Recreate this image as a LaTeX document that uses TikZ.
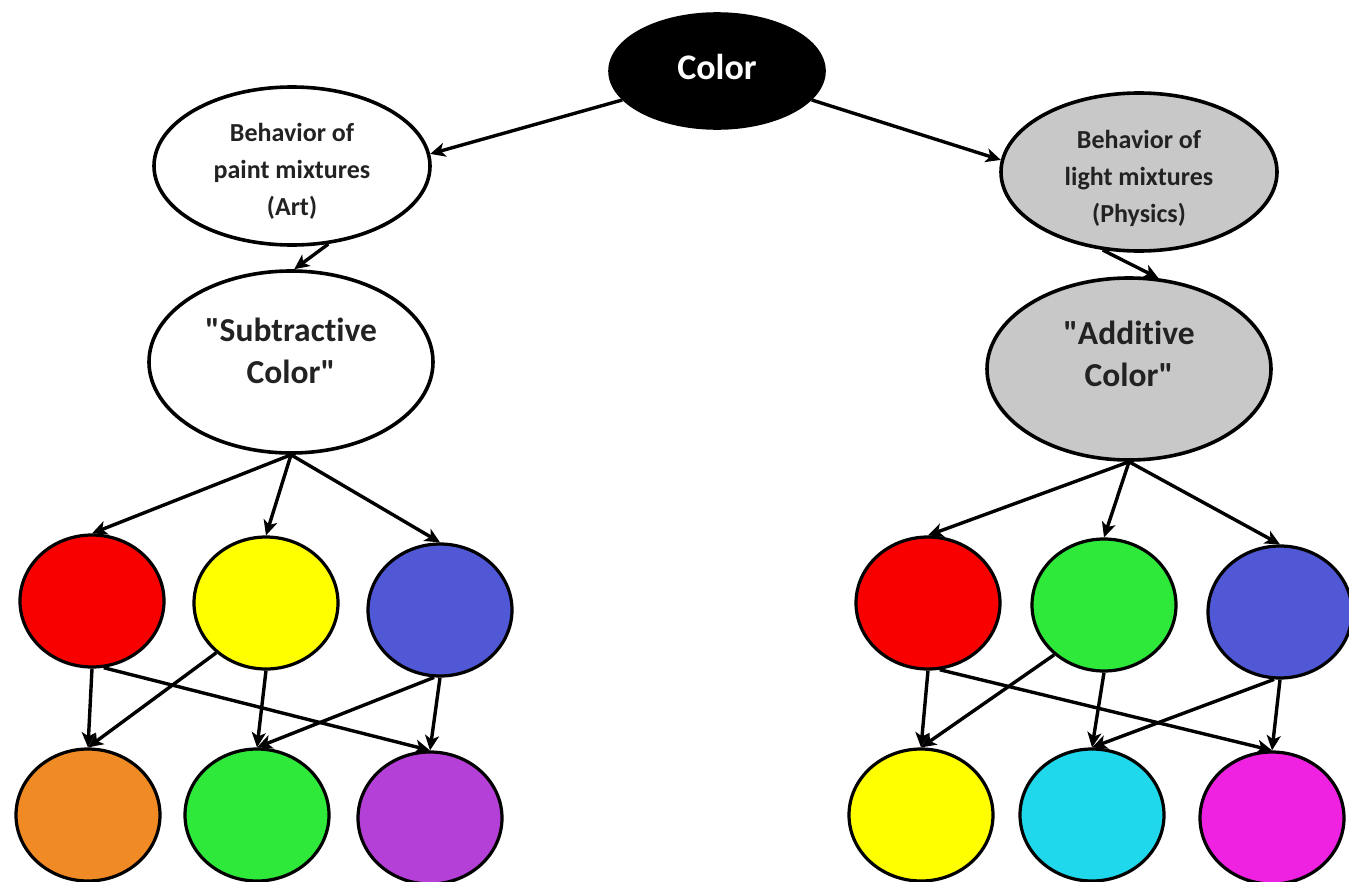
\documentclass[tikz,border=0pt]{standalone}
\usepackage{fontspec}
\newfontfamily\carl{Carlito}[Ligatures={NoCommon}]
\usetikzlibrary{shapes.geometric,arrows.meta}
\definecolor{cred}{HTML}{F80000}
\definecolor{cyellow}{HTML}{FFFF00}
\definecolor{cblue}{HTML}{5058D6}
\definecolor{corange}{HTML}{F08A24}
\definecolor{cgreen}{HTML}{2EE83A}
\definecolor{cpurple}{HTML}{B540D8}
\definecolor{ccyan}{HTML}{20D8EC}
\definecolor{cmagenta}{HTML}{EE22E0}
\definecolor{cgray}{HTML}{C8C8C8}
\definecolor{ctext}{HTML}{222222}
\tikzset{
  ell/.style={ellipse, draw=black, line width=3.6pt, inner sep=0pt},
  small/.style={ell, minimum width=276pt, minimum height=158pt},
  big/.style={ell, minimum width=284pt, minimum height=182pt},
  smalltxt/.style={align=center, text=ctext, font=\carl\fontsize{26}{37}\selectfont\bfseries},
  bigtxt/.style={align=center, text=ctext, font=\carl\fontsize{33.5}{42}\selectfont\bfseries},
  dot/.style={ellipse, draw=black, line width=3.2pt, minimum width=144pt, minimum height=132pt, inner sep=0pt},
  arr/.style={line width=3.4pt, -{Stealth[length=15pt,width=14pt,inset=4pt]}}
}
\begin{document}
\begin{tikzpicture}[x=1pt,y=-1pt]
\useasboundingbox (0,0) rectangle (1349,881);
\node[ell, fill=black, minimum width=214pt, minimum height=114pt,
  label={[text=white, font=\carl\fontsize{36}{40}\selectfont\bfseries, yshift=4pt]center:Color}] (color) at (717,71) {};
\node[small, fill=white, label={[smalltxt, yshift=-5pt]center:Behavior of\\paint mixtures\\(Art)}] (paint) at (292,166) {};
\node[small, fill=cgray, label={[smalltxt, yshift=-6pt]center:Behavior of\\light mixtures\\(Physics)}] (light) at (1139,172) {};
\node[big, fill=white, label={[bigtxt, yshift=11pt]center:\char34 Subtractive\\Color\char34}] (sub) at (291,362) {};
\node[big, fill=cgray, label={[bigtxt, yshift=15pt]center:\char34 Additive\\Color\char34}] (add) at (1129,369) {};
% left circles
\node[dot, fill=cred] (r1) at (92,601) {};
\node[dot, fill=cyellow] (y1) at (266,603) {};
\node[dot, fill=cblue] (b1) at (440,610) {};
\node[dot, fill=corange] (o1) at (88,815) {};
\node[dot, fill=cgreen] (g1) at (257,815) {};
\node[dot, fill=cpurple] (p1) at (430,818) {};
% right circles
\node[dot, fill=cred] (r2) at (928,603) {};
\node[dot, fill=cgreen] (g2) at (1104,605) {};
\node[dot, fill=cblue] (b2) at (1280,612) {};
\node[dot, fill=cyellow] (y2) at (921,815) {};
\node[dot, fill=ccyan] (c2) at (1092,815) {};
\node[dot, fill=cmagenta] (m2) at (1272,818) {};
% arrows
\draw[arr] (color.197) -- (paint.5);
\draw[arr] (color.-17) -- (light.175);
\draw[arr] (paint.-65) -- (sub.88);
\draw[arr] (light.245) -- (add.72);
\draw[arr] (sub.south) -- (r1.north);
\draw[arr] (sub.south) -- (y1.north);
\draw[arr] (sub.south) -- (b1.north);
\draw[arr] (add.south) -- (r2.north);
\draw[arr] (add.south) -- (g2.north);
\draw[arr] (add.south) -- (b2.north);
\draw[arr] (r1.south) -- (o1.north);
\draw[arr] (r1.-80) -- (p1.north);
\draw[arr] (y1.225) -- (o1.north);
\draw[arr] (y1.south) -- (g1.north);
\draw[arr] (b1.265) -- (g1.north);
\draw[arr] (b1.south) -- (p1.north);
\draw[arr] (r2.south) -- (y2.north);
\draw[arr] (r2.-80) -- (m2.north);
\draw[arr] (g2.225) -- (y2.north);
\draw[arr] (g2.south) -- (c2.north);
\draw[arr] (b2.265) -- (c2.north);
\draw[arr] (b2.south) -- (m2.north);
\end{tikzpicture}
\end{document}
